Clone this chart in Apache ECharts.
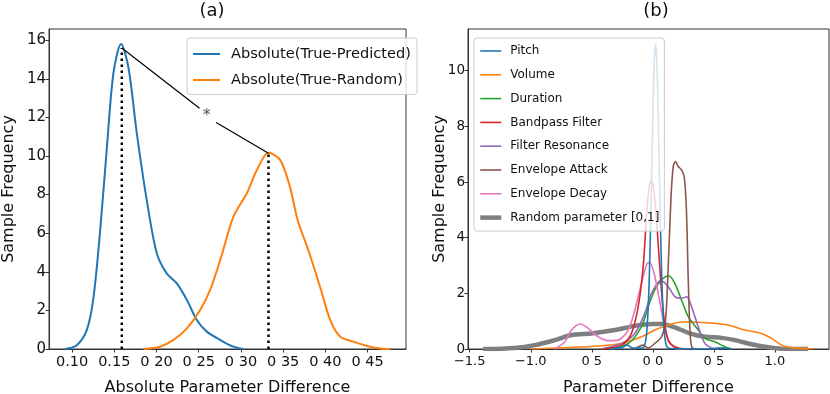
<!DOCTYPE html>
<html>
<head>
<meta charset="utf-8">
<script src="https://cdn.jsdelivr.net/npm/echarts@6/dist/echarts.min.js"></script>
<style>
html, body { margin: 0; padding: 0; background: #fff; }
#main { width: 830px; height: 394px; }
</style>
</head>
<body>
<div id="main"></div>
<script>
// ---- panel (a) data ----
const predicted = [[0.0917,0],[0.1056,0.2],[0.1174,0.98],[0.125,2.54],[0.133,6.0],[0.141,10.3],[0.149,14.3],[0.158,15.8],[0.1667,14.6],[0.1766,11.2],[0.1885,7.7],[0.2003,4.96],[0.212,3.92],[0.224,3.4],[0.236,2.54],[0.2477,1.5],[0.2596,0.9],[0.2754,0.47],[0.291,0.12],[0.303,0]];
const randomA = [[0.1845,0],[0.2043,0.12],[0.22,0.47],[0.236,1.07],[0.2517,2.02],[0.2635,3.06],[0.2754,4.6],[0.2911,6.86],[0.307,8.07],[0.3188,9.27],[0.3326,10.17],[0.3464,9.8],[0.358,8.4],[0.367,6.7],[0.381,4.96],[0.3938,3.2],[0.4057,1.5],[0.4175,0.64],[0.433,0.38],[0.449,0.16],[0.465,0.03],[0.4768,0]];
const modeLeft = [[0.1589,0],[0.1589,15.6]];
const modeRight = [[0.3326,0],[0.3326,10.1]];
const linkUpper = [[0.1589,15.6],[0.2509,12.47]];
const linkLower = [[0.2706,11.73],[0.3326,10.14]];
const starPoint = [[0.2596,12.07]];
const xTicksA = [0.10,0.15,0.20,0.25,0.30,0.35,0.40,0.45];
const xLabelsA = ['0.10','0.15','0 20','0 25','0 30','0 35','0 40','0 45'];
const yTicksA = [0,2,4,6,8,10,12,14,16];

// ---- panel (b) data ----
const pitch = [[-0.35,0],[-0.25,0.05],[-0.21,0.15],[-0.17,0.04],[-0.12,0.03],[-0.078,0.05],[-0.058,0.31],[-0.048,0.72],[-0.038,1.48],[-0.028,2.73],[-0.018,4.51],[-0.008,6.65],[0.002,8.78],[0.012,10.37],[0.022,10.96],[0.032,10.37],[0.042,8.78],[0.052,6.65],[0.062,4.51],[0.072,2.73],[0.082,1.48],[0.092,0.72],[0.102,0.31],[0.122,0.05],[0.2,0.01],[0.45,0],[0.55,0.04],[0.65,0]];
const volume = [[-1.0,0],[-0.72,0.05],[-0.448,0.11],[-0.257,0.2],[-0.093,0.44],[0.016,0.68],[0.126,0.86],[0.235,0.97],[0.372,0.96],[0.508,0.92],[0.617,0.86],[0.754,0.68],[0.89,0.56],[0.973,0.38],[1.055,0.14],[1.137,0.05],[1.31,0]];
const duration = [[-0.37,0],[-0.2,0.2],[-0.093,0.8],[-0.038,1.52],[0.016,2.12],[0.071,2.48],[0.131,2.63],[0.18,2.36],[0.235,1.76],[0.29,1.16],[0.372,0.68],[0.426,0.38],[0.508,0.26],[0.59,0.08],[0.645,0]];
const bandpass = [[-0.42,0],[-0.257,0.14],[-0.175,0.56],[-0.12,1.52],[-0.079,2.96],[-0.052,4.76],[-0.03,5.84],[-0.011,6.08],[0.011,5.6],[0.038,4.16],[0.066,2.36],[0.093,1.04],[0.126,0.32],[0.18,0.08],[0.26,0]];
const resonance = [[-0.42,0],[-0.257,0.2],[-0.148,0.56],[-0.066,1.28],[-0.011,2.0],[0.066,2.46],[0.126,2.24],[0.18,1.88],[0.235,1.82],[0.276,1.88],[0.317,1.52],[0.372,0.8],[0.426,0.2],[0.48,0.04],[0.535,0]];
const attack = [[-0.148,0],[-0.079,0.14],[-0.038,0.04],[0.016,0.2],[0.071,0.44],[0.104,1.04],[0.126,2.96],[0.148,5.36],[0.167,6.56],[0.186,6.74],[0.208,6.56],[0.235,6.44],[0.257,6.2],[0.275,5.0],[0.29,2.5],[0.305,0.6],[0.32,0.05],[0.35,0]];
const decay = [[-0.803,0],[-0.72,0.26],[-0.667,0.68],[-0.593,0.9],[-0.53,0.74],[-0.448,0.44],[-0.366,0.3],[-0.284,0.32],[-0.202,0.68],[-0.148,1.4],[-0.093,2.36],[-0.052,3.02],[-0.03,3.12],[0.003,2.84],[0.044,2.0],[0.085,1.04],[0.126,0.32],[0.18,0.04],[0.235,0]];
const randomParam = [[-1.39,0],[-1.131,0.04],[-0.967,0.14],[-0.803,0.32],[-0.667,0.5],[-0.503,0.56],[-0.311,0.68],[-0.148,0.83],[-0.011,0.9],[0.071,0.9],[0.18,0.78],[0.317,0.54],[0.426,0.44],[0.563,0.4],[0.672,0.32],[0.809,0.17],[0.945,0.06],[1.055,0.01],[1.27,0]];
const xTicksB = [-1.5,-1.0,-0.5,0.0,0.5,1.0];
const xLabelsB = ['\u22121.5','\u22121.0','0 5','0 0','0 5','1.0'];
const yTicksB = [0,2,4,6,8,10];

const tickFont = "'DejaVu Sans', sans-serif";
const nameFont = "'DejaVu Sans', sans-serif";

function labelOf(ticks, labels) {
    return function (v) {
        let i = ticks.findIndex(t => Math.abs(t - v) < 1e-6);
        return i >= 0 ? labels[i] : '';
    };
}

function makeX(idx, min, max, ticks, labels, name, fs) {
    return {
        type: 'value', gridIndex: idx, min: min, max: max,
        name: name, nameLocation: 'middle', nameGap: 31, nameMoveOverlap: false,
        nameTextStyle: { fontFamily: nameFont, fontSize: 16, color: '#111' },
        axisLine: { show: true, onZero: false, lineStyle: { color: '#333', width: 1 } },
        axisTick: { show: true, length: 3.5, customValues: ticks, lineStyle: { color: '#333' } },
        axisLabel: { customValues: ticks, formatter: labelOf(ticks, labels), margin: 6,
            fontFamily: tickFont, fontSize: fs, color: '#111' },
        splitLine: { show: false }
    };
}

function makeY(idx, max, ticks, gap, fs) {
    return {
        type: 'value', gridIndex: idx, min: 0, max: max,
        name: 'Sample Frequency', nameLocation: 'middle', nameGap: gap, nameRotate: 90,
        nameMoveOverlap: false,
        nameTextStyle: { fontFamily: nameFont, fontSize: 16, color: '#111' },
        axisLine: { show: true, onZero: false, lineStyle: { color: '#333', width: 1 } },
        axisTick: { show: true, length: 3.5, customValues: ticks, lineStyle: { color: '#333' } },
        axisLabel: { customValues: ticks, margin: 3, fontFamily: tickFont, fontSize: fs, color: '#111' },
        splitLine: { show: false }
    };
}

function curve(name, data, color, width, xi, yi) {
    return {
        name: name, type: 'line', data: data, xAxisIndex: xi, yAxisIndex: yi,
        smooth: 0.3, symbol: 'none', lineStyle: { color: color, width: width },
        itemStyle: { color: color }, silent: true, z: 3
    };
}

function dots(data) {
    return {
        type: 'line', data: data, xAxisIndex: 0, yAxisIndex: 0, symbol: 'none', silent: true,
        lineStyle: { color: '#000', width: 2.5, type: [2.5, 3.5] }, z: 4
    };
}

function segment(data) {
    return {
        type: 'line', data: data, xAxisIndex: 0, yAxisIndex: 0, symbol: 'none', silent: true,
        lineStyle: { color: '#000', width: 1.2 }, z: 4
    };
}

const chart = echarts.init(document.getElementById('main'));
chart.setOption({
    animation: false,
    backgroundColor: '#fff',
    title: [
        { text: '(a)', left: 207, top: -3, textAlign: 'center',
          textStyle: { fontFamily: nameFont, fontSize: 18, fontWeight: 'normal', color: '#111' } },
        { text: '(b)', left: 651, top: -3, textAlign: 'center',
          textStyle: { fontFamily: nameFont, fontSize: 18, fontWeight: 'normal', color: '#111' } }
    ],
    grid: [
        { left: 49, top: 29, width: 357, height: 320, outerBoundsMode: 'none',
          show: true, borderColor: '#333', borderWidth: 1 },
        { left: 468, top: 29, width: 361, height: 320, outerBoundsMode: 'none',
          show: true, borderColor: '#333', borderWidth: 1 }
    ],
    legend: [
        {
            data: ['Absolute(True-Predicted)', 'Absolute(True-Random)'],
            orient: 'vertical', left: 187, top: 38,
            itemWidth: 27, itemHeight: 14, itemGap: 11, padding: [8.5, 6, 7, 5],
            borderColor: '#ccc', borderWidth: 1, borderRadius: 3,
            backgroundColor: 'rgba(255,255,255,0.8)',
            lineStyle: { width: 'inherit' },
            itemStyle: { opacity: 0 },
            textStyle: { fontFamily: tickFont, fontSize: 14.6, color: '#111', padding: [0, 0, 0, 6] }
        },
        {
            data: ['Pitch', 'Volume', 'Duration', 'Bandpass Filter', 'Filter Resonance',
                   'Envelope Attack', 'Envelope Decay', 'Random parameter [0,1]'],
            orient: 'vertical', left: 474, top: 38,
            itemWidth: 21, itemHeight: 13, itemGap: 11.8, padding: [7, 5, 7.5, 4],
            borderColor: '#ccc', borderWidth: 1, borderRadius: 3,
            backgroundColor: 'rgba(255,255,255,0.8)',
            lineStyle: { width: 'inherit' },
            itemStyle: { opacity: 0 },
            textStyle: { fontFamily: tickFont, fontSize: 12, color: '#111', padding: [0, 0, 0, 4] }
        }
    ],
    xAxis: [
        makeX(0, 0.0727, 0.4954, xTicksA, xLabelsA, 'Absolute Parameter Difference', 14.5),
        makeX(1, -1.514, 1.443, xTicksB, xLabelsB, 'Parameter Difference', 13)
    ],
    yAxis: [
        makeY(0, 16.58, yTicksA, 32, 15),
        makeY(1, 11.5, yTicksB, 20, 13.5)
    ],
    series: [
        curve('Absolute(True-Predicted)', predicted, '#1f77b4', 2, 0, 0),
        curve('Absolute(True-Random)', randomA, '#ff7f0e', 2, 0, 0),
        dots(modeLeft),
        dots(modeRight),
        segment(linkUpper),
        segment(linkLower),
        {
            type: 'scatter', data: starPoint, xAxisIndex: 0, yAxisIndex: 0, symbolSize: 1,
            itemStyle: { color: 'rgba(0,0,0,0)' }, silent: true,
            label: { show: true, position: 'inside', formatter: '*',
                     fontFamily: nameFont, fontSize: 16, color: '#222' }
        },
        curve('Random parameter [0,1]', randomParam, '#7f7f7f', 4.5, 1, 1),
        curve('Volume', volume, '#ff7f0e', 1.6, 1, 1),
        curve('Duration', duration, '#2ca02c', 1.6, 1, 1),
        curve('Filter Resonance', resonance, '#9467bd', 1.6, 1, 1),
        curve('Envelope Decay', decay, '#e377c2', 1.6, 1, 1),
        curve('Envelope Attack', attack, '#8c564b', 1.6, 1, 1),
        curve('Bandpass Filter', bandpass, '#d62728', 1.6, 1, 1),
        curve('Pitch', pitch, '#1f77b4', 1.6, 1, 1)
    ]
});
</script>
</body>
</html>
